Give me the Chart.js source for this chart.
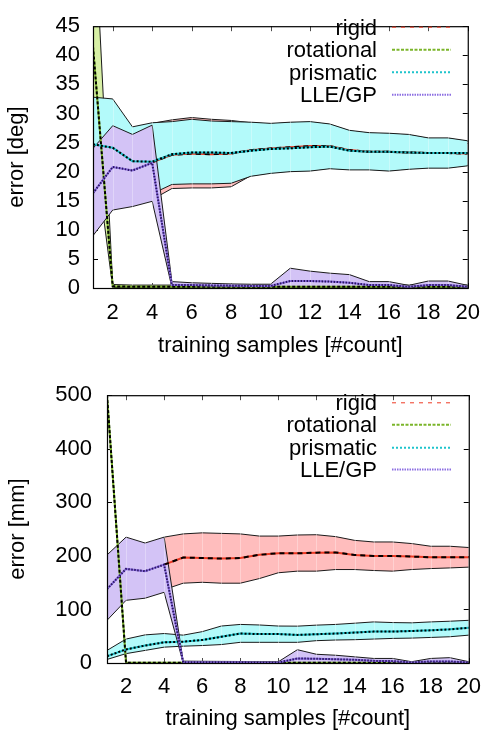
<!DOCTYPE html>
<html>
<head>
<meta charset="utf-8">
<style>
  html, body { margin: 0; padding: 0; background: #fff; }
  .panel { position: absolute; left: 0; width: 492px; }
  #top { top: 0; height: 367px; }
  #bottom { top: 367px; height: 368px; }
</style>
</head>
<body>
<div class="panel" id="top"><canvas id="degChart" width="492" height="367"></canvas></div>
<div class="panel" id="bottom"><canvas id="mmChart" width="492" height="368"></canvas></div>

<script src="https://cdn.jsdelivr.net/npm/chart.js"></script>
<script>
  const samples = [1, 2, 3, 4, 5, 6, 7, 8, 9, 10, 11, 12, 13, 14, 15, 16, 17, 18, 19, 20];
  const xTicks = [2, 4, 6, 8, 10, 12, 14, 16, 18, 20];
  const seriesNames = ['rigid', 'rotational', 'prismatic', 'LLE/GP'];

  // angle error [deg]
  const rigidDegUpper = [null, null, null, 28.3, 28.9, 29.3, 29.0, 28.8, 28.4, 28.2, 28.4, 28.5, 28.1, 27.0, 26.6, 26.5, 26.3, 25.7, 25.7, 25.2];
  const rigidDegMean  = [null, null, null, 21.6, 22.9, 23.1, 23.0, 23.1, 23.7, 24.0, 24.2, 24.4, 24.4, 23.7, 23.4, 23.4, 23.3, 23.2, 23.2, 23.1];
  const rigidDegLower = [null, null, null, 15.2, 17.1, 17.2, 17.2, 17.4, 19.3, 19.8, 20.1, 20.2, 20.6, 20.4, 20.4, 20.2, 20.5, 20.7, 20.7, 21.1];
  const rotDegUpper = [68, 0.6, 0.5, 0.5, 0.5, 0.5, 0.5, 0.5, 0.5, 0.5, 0.5, 0.5, 0.5, 0.5, 0.5, 0.5, 0.5, 0.5, 0.5, 0.5];
  const rotDegMean  = [41.5, 0.3, 0.2, 0.2, 0.2, 0.2, 0.2, 0.2, 0.2, 0.2, 0.2, 0.2, 0.2, 0.2, 0.2, 0.2, 0.2, 0.2, 0.2, 0.2];
  const rotDegLower = [26, 0.1, 0.05, 0.05, 0.05, 0.05, 0.05, 0.05, 0.05, 0.05, 0.05, 0.05, 0.05, 0.05, 0.05, 0.05, 0.05, 0.05, 0.05, 0.05];
  const prisDegUpper = [32.8, 32.5, 27.7, 28.4, 28.6, 29.0, 28.7, 28.6, 28.5, 28.3, 28.5, 28.6, 28.2, 27.1, 26.7, 26.6, 26.4, 25.8, 25.8, 25.3];
  const prisDegMean  = [24.7, 24.1, 21.8, 21.7, 23.0, 23.3, 23.3, 23.2, 23.6, 23.9, 24.0, 24.2, 24.3, 23.6, 23.4, 23.4, 23.3, 23.2, 23.2, 23.2];
  const prisDegLower = [17.0, 16.5, 16.5, 16.2, 17.8, 17.9, 17.9, 18.0, 19.2, 19.7, 20.0, 20.1, 20.5, 20.3, 20.3, 20.1, 20.4, 20.6, 20.6, 21.0];
  const lleDegUpper = [24.0, 27.9, 26.4, 28.0, 1.1, 0.9, 0.8, 0.7, 0.65, 0.65, 3.4, 2.9, 2.55, 2.3, 1.1, 1.1, 0.45, 1.2, 1.2, 0.45];
  const lleDegMean  = [16.3, 20.8, 20.2, 21.5, 0.5, 0.5, 0.45, 0.4, 0.35, 0.35, 1.2, 1.2, 1.1, 0.9, 0.5, 0.5, 0.2, 0.5, 0.5, 0.2];
  const lleDegLower = [9.0, 13.4, 14.0, 14.9, 0.1, 0.1, 0.1, 0.1, 0.1, 0.1, 0.1, 0.1, 0.1, 0.1, 0.1, 0.1, 0.05, 0.1, 0.1, 0.05];

  // position error [mm]
  const rigidMmUpper = [null, null, null, 235, 241, 243, 242, 241, 237, 237, 239, 239.5, 236, 229, 226, 226, 223, 218, 218, 215.6];
  const rigidMmMean  = [null, null, null, 183.6, 197, 196, 195, 196, 202, 205, 204.7, 206, 206.5, 201.7, 200, 200, 198.7, 197.5, 197.5, 197.5];
  const rigidMmLower = [null, null, null, 137, 149, 150.7, 149, 149, 157.6, 168.5, 171.5, 171.5, 174.5, 174.5, 172.7, 171.5, 174.5, 176.3, 177.5, 179];
  const rotMmUpper = [502, 1.0, 1.0, 1.0, 1.0, 1.0, 1.0, 1.0, 1.0, 1.0, 1.0, 1.0, 1.0, 1.0, 1.0, 1.0, 1.0, 1.0, 1.0, 1.0];
  const rotMmMean  = [500, 0.5, 0.5, 0.5, 0.5, 0.5, 0.5, 0.5, 0.5, 0.5, 0.5, 0.5, 0.5, 0.5, 0.5, 0.5, 0.5, 0.5, 0.5, 0.5];
  const rotMmLower = [497, 0.2, 0.2, 0.2, 0.2, 0.2, 0.2, 0.2, 0.2, 0.2, 0.2, 0.2, 0.2, 0.2, 0.2, 0.2, 0.2, 0.2, 0.2, 0.2];
  const prisMmUpper = [23.5, 44.7, 52.5, 55, 52, 58.5, 69, 72, 71, 69, 68.8, 70.7, 72, 74.3, 76.7, 75.5, 75, 76.7, 78, 79.7];
  const prisMmMean  = [12.7, 25.4, 32.6, 38.6, 39.9, 42.9, 49, 55, 54, 54, 52.5, 53.7, 55, 56.8, 58.6, 58.6, 59.8, 61, 62.8, 65.8];
  const prisMmLower = [6.6, 17.5, 23.5, 29.6, 31.4, 32.6, 34.4, 38.6, 38.6, 38.6, 38.6, 41.7, 42.9, 43.5, 44.7, 45.9, 46.5, 47.7, 49, 52];
  const lleMmUpper = [201.7, 235, 224, 235, 3.5, 3.2, 3.0, 2.8, 2.6, 2.4, 24.8, 16.3, 14.5, 11.5, 8.5, 8.5, 2.4, 8.5, 10, 2.4];
  const lleMmMean  = [138, 175.7, 171.5, 183.6, 1.5, 1.4, 1.3, 1.2, 1.1, 1.0, 8.5, 7.9, 7, 6, 4, 3.5, 1, 3, 3, 1];
  const lleMmLower = [79.7, 117, 121, 132, 0.2, 0.2, 0.2, 0.2, 0.2, 0.2, 0.2, 0.2, 0.2, 0.2, 0.2, 0.2, 0.2, 0.2, 0.2, 0.2];

  const FONT = "'Liberation Sans', Arial, Helvetica, sans-serif";
  const fillColors = ['#ffbdbd', '#d8f0a6', '#b3fafa', '#d3c3f6'];
  const lineColors = ['#ee3a24', '#7bb52a', '#1ec4cc', '#8c6ee2'];
  const dashColors = ['#000', '#000', '#000', '#2a1660'];
  const dashes = [[5, 4], [3, 2], [2, 2], [1.5, 1.5]];
  const legendDash = [[4, 5], [3, 1.5], [2, 2], [1.5, 1]];
  const legendWidth = [1, 2, 2, 2];

  function pts(arr) {
    return samples.map((x, i) => ({ x: x, y: arr[i] }));
  }

  function buildDatasets(bands) {
    const ds = [];
    // bands drawn first (opaque, in key order), mean lines on top
    bands.forEach((b, k) => {
      ds.push({
        data: pts(b.upper), borderColor: '#1a1a1a', borderWidth: 1,
        backgroundColor: fillColors[k], fill: '+1', order: 20 - k * 2
      });
      ds.push({
        data: pts(b.lower), borderColor: '#1a1a1a', borderWidth: 1,
        fill: false, order: 19 - k * 2, seam: k === bands.length - 1
      });
    });
    bands.forEach((b, k) => {
      ds.push({
        data: pts(b.mean), borderColor: lineColors[k], borderWidth: 2,
        fill: false, order: 8 - k * 2
      });
      ds.push({
        data: pts(b.mean), borderColor: dashColors[k], borderWidth: 2,
        borderDash: dashes[k], fill: false, order: 7 - k * 2
      });
    });
    return ds;
  }

  function framePlugin(yTickVals, legendRows) {
    return {
      id: 'gnuFrame',
      beforeDatasetsDraw(chart) {
        const { ctx, chartArea: a, scales } = chart;
        ctx.save();
        ctx.strokeStyle = '#000';
        ctx.lineWidth = 1;
        ctx.beginPath();
        xTicks.forEach(v => {
          const px = Math.round(scales.x.getPixelForValue(v)) + 0.5;
          ctx.moveTo(px, a.bottom); ctx.lineTo(px, a.bottom - 5);
          ctx.moveTo(px, a.top); ctx.lineTo(px, a.top + 5);
        });
        yTickVals.forEach(v => {
          const py = Math.round(scales.y.getPixelForValue(v)) + 0.5;
          ctx.moveTo(a.left, py); ctx.lineTo(a.left + 5, py);
          ctx.moveTo(a.right, py); ctx.lineTo(a.right - 5, py);
        });
        ctx.stroke();
        ctx.restore();
      },
      afterDatasetDraw(chart, args) {
        // faint seams between filled segments
        if (!chart.data.datasets[args.index].seam) return;
        const { ctx, chartArea: a, scales } = chart;
        ctx.save();
        ctx.strokeStyle = 'rgba(255,255,255,0.3)';
        ctx.lineWidth = 1;
        ctx.beginPath();
        samples.slice(1, -1).forEach(v => {
          const px = Math.round(scales.x.getPixelForValue(v)) + 0.5;
          ctx.moveTo(px, a.top); ctx.lineTo(px, a.bottom);
        });
        ctx.stroke();
        ctx.restore();
      },
      afterDatasetsDraw(chart) {
        const { ctx, chartArea: a } = chart;
        ctx.save();
        ctx.strokeStyle = '#000';
        ctx.lineWidth = 1.2;
        ctx.strokeRect(a.left + 0.5, a.top + 0.5, a.right - a.left, a.bottom - a.top);
        // key
        ctx.font = '22px ' + FONT;
        ctx.fillStyle = '#000';
        ctx.textAlign = 'right';
        ctx.textBaseline = 'alphabetic';
        seriesNames.forEach((name, k) => {
          const y = legendRows[k];
          ctx.fillText(name, 377, y + 8);
          ctx.beginPath();
          ctx.setLineDash(legendDash[k]);
          ctx.strokeStyle = lineColors[k];
          ctx.lineWidth = legendWidth[k];
          ctx.moveTo(392, y + 0.5);
          ctx.lineTo(451, y + 0.5);
          ctx.stroke();
          ctx.setLineDash([]);
        });
        ctx.restore();
      }
    };
  }

  function makePanel(id, bands, cfg) {
    const tickFont = { family: FONT, size: 22 };
    return new Chart(document.getElementById(id), {
      type: 'line',
      data: { datasets: buildDatasets(bands) },
      options: {
        responsive: false,
        animation: false,
        layout: { padding: { top: cfg.padTop, right: 15, left: 0, bottom: 0 } },
        elements: { point: { radius: 0 }, line: { tension: 0 } },
        plugins: { legend: { display: false }, tooltip: { enabled: false } },
        scales: {
          x: {
            type: 'linear', min: 1, max: 20,
            grid: { display: false, drawTicks: false },
            border: { display: false },
            afterBuildTicks: s => { s.ticks = xTicks.map(v => ({ value: v })); },
            afterFit: s => { s.height = cfg.xHeight; },
            ticks: { autoSkip: false, maxRotation: 0, padding: cfg.xTickPad, color: '#000', font: tickFont },
            title: { display: true, text: 'training samples [#count]', color: '#000', font: tickFont, padding: { top: 0, bottom: cfg.xTitlePad } }
          },
          y: {
            min: 0, max: cfg.yMax,
            grid: { display: false, drawTicks: false },
            border: { display: false },
            afterBuildTicks: s => { s.ticks = cfg.yTicks.map(v => ({ value: v })); },
            afterFit: s => { s.width = cfg.yWidth; },
            ticks: { autoSkip: false, padding: cfg.yTickPad, color: '#000', font: tickFont },
            title: { display: true, text: cfg.yTitle, color: '#000', font: tickFont, padding: { top: cfg.yTitlePad, bottom: 0 } }
          }
        }
      },
      plugins: [framePlugin(cfg.yTicks, cfg.legendRows)]
    });
  }

  makePanel('degChart', [
    { upper: rigidDegUpper, mean: rigidDegMean, lower: rigidDegLower },
    { upper: rotDegUpper, mean: rotDegMean, lower: rotDegLower },
    { upper: prisDegUpper, mean: prisDegMean, lower: prisDegLower },
    { upper: lleDegUpper, mean: lleDegMean, lower: lleDegLower }
  ], {
    padTop: 12, xHeight: 79, yWidth: 93, yMax: 45,
    yTicks: [0, 5, 10, 15, 20, 25, 30, 35, 40, 45],
    yTitle: 'error [deg]', xTickPad: 12, xTitlePad: 8, yTickPad: 13, yTitlePad: 4,
    legendRows: [26.7, 49.2, 71.7, 94.3]
  });

  makePanel('mmChart', [
    { upper: rigidMmUpper, mean: rigidMmMean, lower: rigidMmLower },
    { upper: rotMmUpper, mean: rotMmMean, lower: rotMmLower },
    { upper: prisMmUpper, mean: prisMmMean, lower: prisMmLower },
    { upper: lleMmUpper, mean: lleMmMean, lower: lleMmLower }
  ], {
    padTop: 20, xHeight: 72, yWidth: 107, yMax: 500,
    yTicks: [0, 100, 200, 300, 400, 500],
    yTitle: 'error [mm]', xTickPad: 11, xTitlePad: 3, yTickPad: 15, yTitlePad: 5,
    legendRows: [35.3, 57.3, 80.3, 102]
  });
</script>
</body>
</html>
